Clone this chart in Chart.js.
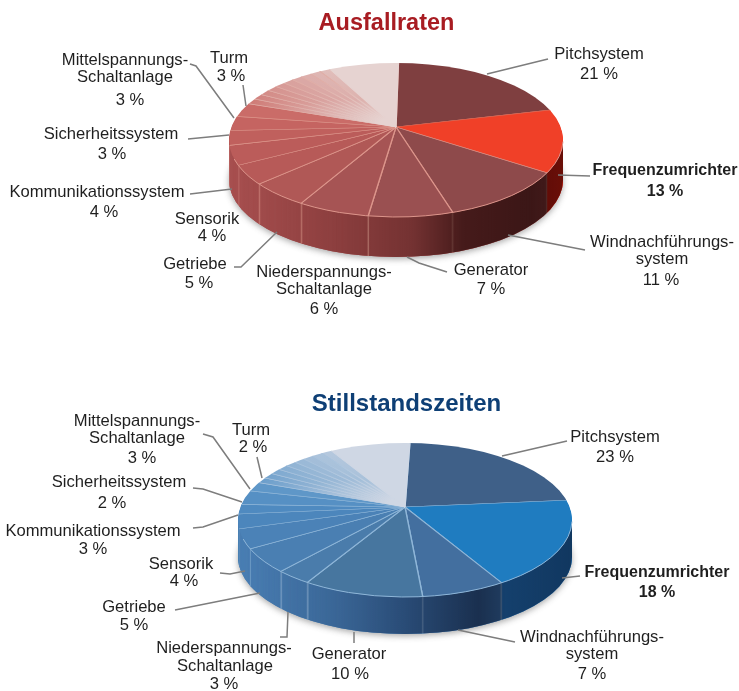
<!DOCTYPE html>
<html lang="de">
<head>
<meta charset="utf-8">
<title>Ausfallraten und Stillstandszeiten</title>
<script src="https://cdn.jsdelivr.net/npm/chart.js@4"></script>
<style>
  html, body { margin: 0; padding: 0; background: #fff; }
  canvas { position: absolute; left: 0; display: block; }
</style>
</head>
<body>
<canvas id="ausfall" width="739" height="345" style="top:0"></canvas>
<canvas id="stillstand" width="739" height="346" style="top:345px"></canvas>
<script>
/* values, in percent */
const categories = ['Pitchsystem', 'Frequenzumrichter', 'Windnachführungssystem', 'Generator',
  'Niederspannungs-Schaltanlage', 'Getriebe', 'Sensorik', 'Kommunikationssystem',
  'Sicherheitssystem', 'Mittelspannungs-Schaltanlage', 'Turm'];
const ausfallValues = [21, 13, 11, 7, 6, 5, 4, 4, 3, 3, 3];
const stillstandValues = [23, 18, 7, 10, 3, 5, 4, 3, 2, 3, 2];
// unlabelled thin slices and the pale last slice
const ausfallRest = [1.2, 1.2, 1.2, 1.2, 1.2, 1.2, 1.2, 1.2, 1.2, 1.2, 8];
const stillstandRest = [1.2, 1.2, 1.2, 1.2, 1.2, 1.2, 1.2, 1.2, 1.2, 9.2];

const ausfallColors = ['#7f3f40', '#f04028', '#8e4a4b', '#9a5051', '#a65454', '#b05856',
  '#b75a58', '#bb5c5a', '#c0605d', '#c56461', '#ca6c68'];
const stillstandColors = ['#3f6088', '#1f7cc0', '#436f9f', '#47769f', '#4a7cab', '#4a7fb2',
  '#4b82b7', '#4c86bc', '#4f8ac0', '#5690c4', '#5f97c8'];
const ausfallWall = ['#7f3f40', '#ff2a18', '#a85050', '#a85050', '#a85050', '#a85050',
  '#a85050', '#a85050', '#a85050', '#a85050', '#a85050'];
const stillstandWall = ['#3f6088', '#2f86cc', '#4a7fb4', '#4a7fb4', '#4a7fb4', '#4a7fb4',
  '#4a7fb4', '#4a7fb4', '#4a7fb4', '#4a7fb4', '#4a7fb4'];

/* label layout: page coordinates, [text, x, y, bold] */
const ausfallText = [
  ['Pitchsystem', 599, 54], ['21 %', 599, 74],
  ['Frequenzumrichter', 665, 171, true], ['13 %', 665, 192, true],
  ['Windnachführungs-', 662, 242], ['system', 662, 259], ['11 %', 661, 280],
  ['Generator', 491, 270], ['7 %', 491, 289],
  ['Niederspannungs-', 324, 272], ['Schaltanlage', 324, 289], ['6 %', 324, 309],
  ['Getriebe', 195, 264], ['5 %', 199, 283],
  ['Sensorik', 207, 219], ['4 %', 212, 236],
  ['Kommunikationssystem', 97, 192], ['4 %', 104, 212],
  ['Sicherheitssystem', 111, 134], ['3 %', 112, 154],
  ['Mittelspannungs-', 125, 60], ['Schaltanlage', 125, 77], ['3 %', 130, 100],
  ['Turm', 229, 58], ['3 %', 231, 76]
];
const ausfallLeaders = [
  [[487, 74], [548, 59]], [[558, 175], [590, 176]], [[508, 235], [585, 250]],
  [[407, 257], [419, 263], [447, 272]], [[277, 232], [241, 267], [234, 267]],
  [[232, 189], [190, 194]], [[229, 135], [188, 139]], [[234, 118], [196, 66], [190, 64]],
  [[246, 106], [243, 85]]
];
const stillstandText = [
  ['Pitchsystem', 615, 437], ['23 %', 615, 457],
  ['Frequenzumrichter', 657, 573, true], ['18 %', 657, 593, true],
  ['Windnachführungs-', 592, 637], ['system', 592, 654], ['7 %', 592, 674],
  ['Generator', 349, 654], ['10 %', 350, 674],
  ['Niederspannungs-', 224, 648], ['Schaltanlage', 225, 666], ['3 %', 224, 684],
  ['Getriebe', 134, 607], ['5 %', 134, 625],
  ['Sensorik', 181, 564], ['4 %', 184, 581],
  ['Kommunikationssystem', 93, 531], ['3 %', 93, 549],
  ['Sicherheitssystem', 119, 482], ['2 %', 112, 503],
  ['Mittelspannungs-', 137, 421], ['Schaltanlage', 137, 438], ['3 %', 142, 458],
  ['Turm', 251, 430], ['2 %', 253, 447]
];
const stillstandLeaders = [
  [[502, 456], [567, 441]], [[562, 578], [580, 576]], [[458, 630], [515, 642]],
  [[354, 632], [354, 643]], [[288, 612], [287, 637], [280, 637]], [[260, 593], [175, 610]],
  [[245, 571], [230, 574], [220, 573]], [[238, 515], [203, 527], [193, 528]],
  [[242, 502], [203, 489], [193, 488]], [[250, 489], [213, 437], [203, 434]],
  [[262, 478], [257, 457]]
];

const SQUASH = 0.46;   // ground plane tilt
const RADIUS = 205;    // wide enough to fill the ellipse, which clips it

function mix(a, b, t) {
  const ca = parseInt(a.slice(1), 16), cb = parseInt(b.slice(1), 16);
  const ch = s => Math.round(((ca >> s) & 255) * (1 - t) + ((cb >> s) & 255) * t);
  return `rgb(${ch(16)},${ch(8)},${ch(0)})`;
}

function arcOptions(background, border, width) {
  return {
    backgroundColor: background, borderColor: border, borderWidth: width, borderAlign: 'center',
    borderRadius: 0, borderDash: [], borderDashOffset: 0, borderJoinStyle: 'round',
    offset: 0, spacing: 0, circular: true
  };
}

// perspective pie: the apex sits above the middle of the ellipse
const tiltPlugin = {
  id: 'tilt',
  beforeDatasetsDraw(chart, args, opts) {
    const ctx = chart.ctx;
    const arcs = chart.getDatasetMeta(0).data;
    const { ex, ey, rx, ry, apexY, depth, top, wallColors, wallStops, border } = opts;
    const named = wallColors.length;
    const toPlane = shift => {
      ctx.translate(ex, apexY - top + shift);
      ctx.scale(1, SQUASH);
      ctx.translate(-arcs[0].x, -arcs[0].y);
    };

    // soft shadow under the side wall
    ctx.save();
    ctx.shadowColor = 'rgba(60,60,60,0.45)';
    ctx.shadowBlur = 6;
    ctx.shadowOffsetY = 2;
    ctx.fillStyle = wallColors[2];
    ctx.beginPath();
    ctx.ellipse(ex, ey - top + depth, rx, ry, 0, 0, Math.PI * 2);
    ctx.fill();
    ctx.restore();

    // side wall: slices pushed down step by step, each cut by its own ellipse
    for (let d = depth; d >= 1; d--) {
      ctx.save();
      ctx.beginPath();
      ctx.ellipse(ex, ey - top + d, rx, ry, 0, 0, Math.PI * 2);
      ctx.clip();
      toPlane(d);
      arcs.forEach((arc, i) => {
        const saved = arc.options;
        arc.options = arcOptions(wallColors[Math.min(i, named - 1)], border, 1.4);
        arc.draw(ctx);
        arc.options = saved;
      });
      ctx.restore();
    }

    // shade the wall from left to right
    ctx.save();
    ctx.globalCompositeOperation = 'multiply';
    const shade = ctx.createLinearGradient(ex - rx, 0, ex + rx, 0);
    wallStops.forEach(s => shade.addColorStop(s[0], s[1]));
    ctx.fillStyle = shade;
    ctx.beginPath();
    ctx.ellipse(ex, ey - top + depth, rx, ry, 0, 0, Math.PI);
    ctx.lineTo(ex - rx, ey - top);
    ctx.ellipse(ex, ey - top, rx, ry, 0, Math.PI, 0, true);
    ctx.closePath();
    ctx.fill();
    ctx.restore();

    // top face, drawn by the library inside this clip
    ctx.save();
    ctx.beginPath();
    ctx.ellipse(ex, ey - top, rx, ry, 0, 0, Math.PI * 2);
    ctx.clip();
    toPlane(0);
  },
  afterDatasetsDraw(chart, args, opts) {
    const ctx = chart.ctx;
    ctx.restore();
    ctx.save();
    ctx.strokeStyle = opts.border;
    ctx.lineWidth = 1;
    ctx.beginPath();
    ctx.ellipse(opts.ex, opts.ey - opts.top, opts.rx, opts.ry, 0, 0.02, Math.PI - 0.25);
    ctx.stroke();
    ctx.restore();
  }
};

const labelPlugin = {
  id: 'pieLabels',
  afterDraw(chart, args, opts) {
    const ctx = chart.ctx;
    ctx.save();
    ctx.translate(0, -opts.top);
    ctx.strokeStyle = '#7d7d7d';
    ctx.lineWidth = 1.5;
    opts.leaders.forEach(points => {
      ctx.beginPath();
      points.forEach((p, i) => (i ? ctx.lineTo(p[0], p[1]) : ctx.moveTo(p[0], p[1])));
      ctx.stroke();
    });
    ctx.fillStyle = '#1f1f1f';
    ctx.textAlign = 'center';
    ctx.textBaseline = 'middle';
    opts.texts.forEach(t => {
      ctx.font = t[3] ? 'bold 16px "Liberation Sans"' : '16.6px "Liberation Sans"';
      ctx.fillText(t[0], t[1], t[2]);
    });
    ctx.restore();
  }
};

function pieChart(id, cfg) {
  const values = cfg.values.concat(cfg.rest);
  const last = values.length - 1;
  const named = cfg.colors.length;
  const radial = (c, stops) => {
    const a = c.chart.chartArea;
    const x = (a.left + a.right) / 2, y = (a.top + a.bottom) / 2;
    const g = c.chart.ctx.createRadialGradient(x, y, 0, x, y, RADIUS);
    stops.forEach(s => g.addColorStop(s[0], s[1]));
    return g;
  };
  const fill = c => {
    const i = c.dataIndex;
    if (i < named) return cfg.colors[i];
    if (i === last || !c.chart.chartArea) return cfg.pale;
    const t = (i - named) / (last - named);
    return radial(c, [[0.1, cfg.pale], [0.3 + 0.25 * (1 - t), mix(cfg.rimFrom, cfg.pale, 0.35 * t + 0.3)],
      [0.75, mix(cfg.rimFrom, cfg.pale, 0.85 * t)]]);
  };
  const line = c => {
    const i = c.dataIndex;
    if (i === last) return cfg.pale;
    if (i === 1) return cfg.freqBorder;
    if (i < named || !c.chart.chartArea) return cfg.border;
    return radial(c, [[0.1, cfg.pale], [0.6, mix(cfg.border, cfg.pale, 0.4)]]);
  };
  return new Chart(document.getElementById(id), {
    type: 'pie',
    data: {
      labels: categories.concat(cfg.rest.map(() => '')),
      datasets: [{
        data: values,
        backgroundColor: fill,
        borderColor: line,
        borderWidth: 1.4,
        clip: false
      }]
    },
    options: {
      responsive: false,
      animation: false,
      events: [],
      radius: RADIUS,
      rotation: cfg.rotation,
      layout: { padding: { left: cfg.titleShift } },
      plugins: {
        legend: { display: false },
        tooltip: { enabled: false },
        title: {
          display: true,
          text: cfg.title,
          color: cfg.titleColor,
          font: { family: '"Liberation Sans"', size: cfg.titleSize, weight: 'bold' },
          padding: { top: cfg.titleTop, bottom: 4 }
        },
        tilt: {
          ex: cfg.ex, ey: cfg.ey, rx: 167, ry: 77, apexY: cfg.apexY, depth: cfg.depth, top: cfg.top,
          wallColors: cfg.wall, wallStops: cfg.wallStops, border: cfg.border
        },
        pieLabels: { top: cfg.top, texts: cfg.texts, leaders: cfg.leaders }
      }
    },
    plugins: [tiltPlugin, labelPlugin]
  });
}

pieChart('ausfall', {
  title: 'Ausfallraten', titleColor: '#a81c22', titleSize: 23.5, titleShift: 34, titleTop: 9, top: 0,
  rotation: 1,
  values: ausfallValues, rest: ausfallRest, colors: ausfallColors, wall: ausfallWall,
  pale: '#e6d3d1', rimFrom: '#cf7c77', border: '#dc958b', freqBorder: '#e0604a',
  ex: 396, ey: 140, apexY: 127, depth: 40,
  wallStops: [[0, '#ffffff'], [0.3, '#d8cccc'], [0.55, '#b0a0a0'], [0.7, '#6a5555'], [0.9, '#5a4848'], [1, '#6a5a5a']],
  texts: ausfallText, leaders: ausfallLeaders
});

pieChart('stillstand', {
  title: 'Stillstandszeiten', titleColor: '#0e3f75', titleSize: 24, titleShift: 74, titleTop: 45, top: 345,
  rotation: 2,
  values: stillstandValues, rest: stillstandRest, colors: stillstandColors, wall: stillstandWall,
  pale: '#cfd7e4', rimFrom: '#6b9ecb', border: '#8fb6d8', freqBorder: '#8fb6d8',
  ex: 405, ey: 520, apexY: 507, depth: 37,
  wallStops: [[0, '#ffffff'], [0.3, '#c8ccd4'], [0.5, '#8f98a8'], [0.72, '#5a6070'], [0.8, '#707a88'], [1, '#5f6a78']],
  texts: stillstandText, leaders: stillstandLeaders
});
</script>
</body>
</html>
